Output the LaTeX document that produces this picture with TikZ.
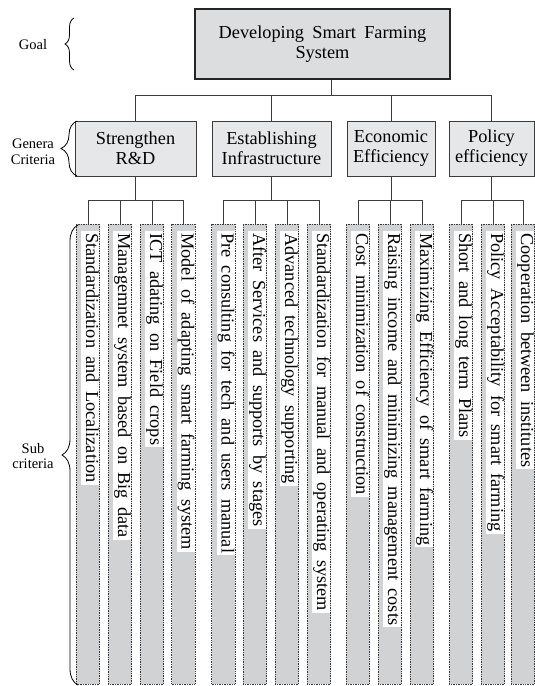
\documentclass[tikz,border=0pt]{standalone}
\usepackage{fontspec}
\setmainfont{Liberation Serif}[WordSpace=1.8]
\usetikzlibrary{decorations.pathreplacing}
\definecolor{goalgray}{RGB}{220,221,223}
\definecolor{critgray}{RGB}{230,231,233}
\definecolor{colgray}{RGB}{209,210,212}
\definecolor{inkgray}{RGB}{60,60,60}

\begin{document}
\begin{tikzpicture}[x=1pt, y=-1pt,
    goalbox/.style={draw=black!85, line width=2.2pt, fill=goalgray, minimum width=255pt, minimum height=70pt, align=center, font=\fontsize{18.3}{20}\selectfont},
    critbox/.style={draw=inkgray, line width=0.8pt, fill=critgray, minimum height=55pt, align=center, inner sep=1pt, font=\fontsize{18.3}{20}\selectfont},
    subcol/.style={draw=inkgray, densely dotted, line width=0.7pt, fill=colgray, minimum width=23.5pt, minimum height=460pt, inner sep=0pt},
    subtext/.style={rotate=-90, anchor=north west, fill=white, inner xsep=2pt, inner ysep=0.6pt, text height=12.6pt, text depth=4.2pt, font=\fontsize{18.3}{20}\selectfont},
    level/.style={align=center, font=\fontsize{14.5}{15.5}\selectfont},
    link/.style={draw=inkgray, line width=0.8pt},
    lbrace/.style={decorate, decoration={brace, amplitude=#1}, line width=0.8pt}]
    \useasboundingbox (0,0) rectangle (535,686);

    % Goal
    \node[goalbox] (goal) at (322.5,44) {Developing Smart Farming\\System};

    % General criteria
    \node[critbox, minimum width=121pt] (c1) at (135.5,148.5) {Strengthen\\R\&D};
    \node[critbox, minimum width=119pt] (c2) at (271.5,148.5) {Establishing\\Infrastructure};
    \node[critbox, minimum width=88pt] (c3) at (391,148.5) {Economic\\Efficiency};
    \node[critbox, minimum width=85pt] (c4) at (491.5,148.5) {Policy\\efficiency};

    % Sub criteria columns
    \foreach \x [count=\i] in {88,120,152,183.5,223.5,255,287,319,358,390,422,461,493,523} {
        \node[subcol] (s\i) at (\x,454) {};
    }
    \foreach \i/\t in {1/Standardization and Localization,
                       2/Managemnet system based on Big data,
                       3/ICT adating on Field crops,
                       4/Model of adapting smart farming system,
                       5/Pre consulting for tech and users manual,
                       6/After Services and supports by stages,
                       7/Advanced technology supporting,
                       8/Standardization for manual and operating system,
                       9/Cost minimization of construction,
                       10/Raising income and minimizing management costs,
                       11/Maximizing Efficiency of smart farming,
                       12/Short and long term Plans,
                       13/Policy Acceptability for smart farming,
                       14/Cooperation between institutes} {
        \node[subtext] (t\i) at ([xshift=-0.5pt, yshift=-7.5pt]s\i.north east) {\t};
    }

    % Level labels
    \node[level] (lgoal) at (33,45) {Goal};
    \node[level] (lcrit) at (33,152) {Genera\\Criteria};
    \node[level] (lsub) at (33,456) {Sub\\criteria};
    \draw[lbrace=9pt] (74,70) -- (74,18);
    \draw[lbrace=16pt] (77,176) -- (77,121);
    \draw[lbrace=16pt] (78,685) -- (78,225);

    % Connections
    \coordinate (gfoot) at ([xshift=8.5pt]goal.south);
    \coordinate (toprail) at (0,95);
    \coordinate (subrail) at (0,200.5);
    \foreach \c in {1,...,4} {
        \draw[link] (gfoot) -- (gfoot |- toprail) -| (c\c.north);
    }
    \foreach \c/\a/\b in {1/1/4, 2/5/8, 3/9/11, 4/12/14} {
        \foreach \j in {\a,...,\b} {
            \draw[link] (c\c.south) -- (c\c.south |- subrail) -| (s\j.north);
        }
    }
\end{tikzpicture}
\end{document}
